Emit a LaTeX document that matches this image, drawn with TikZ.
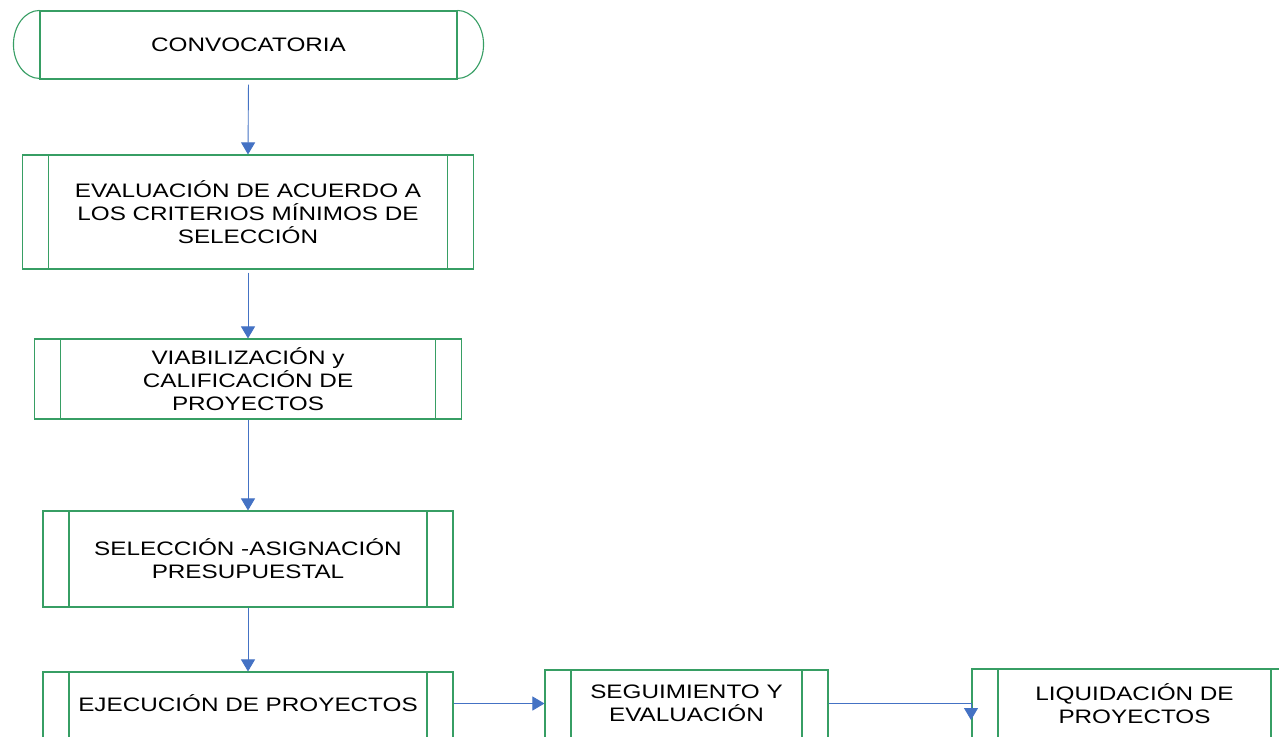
\documentclass[tikz,border=0pt]{standalone}
\usepackage{fontspec}
\setmainfont{Liberation Sans}[FakeStretch=1.245]
\usetikzlibrary{arrows.meta}
\definecolor{boxgreen}{RGB}{55,158,100}
\definecolor{arrblue}{RGB}{68,114,196}
\tikzset{
  lbl/.style={align=center, inner sep=0pt, font=\fontsize{19.5}{23}\selectfont},
  pbox/.style={lbl, draw=boxgreen, line width=1.1pt, rectangle,
    path picture={\draw[boxgreen, line width=1.1pt]
      ([xshift=26pt]path picture bounding box.north west) -- ([xshift=26pt]path picture bounding box.south west)
      ([xshift=-26pt]path picture bounding box.north east) -- ([xshift=-26pt]path picture bounding box.south east);}},
  conn/.style={draw=arrblue, line width=0.9pt, -{Triangle[width=14pt,length=12pt]}},
  termline/.style={draw=boxgreen, line width=1.1pt}
}
\begin{document}
\begin{tikzpicture}[x=1pt,y=-1pt]
\useasboundingbox (0,0) rectangle (1279,736);
\clip (0,0) rectangle (1279,736);
\fill[white] (0,0) rectangle (1279,736);

% terminator
\node[lbl, draw=boxgreen, line width=1.1pt, minimum width=417pt, minimum height=68pt] (conv) at (248.5,45) {CONVOCATORIA};
\draw[termline] (conv.north west) arc[start angle=90, end angle=270, x radius=26pt, y radius=34pt];
\draw[termline] (conv.north east) arc[start angle=90, end angle=-90, x radius=26pt, y radius=34pt];

\node[pbox, minimum width=451pt, minimum height=114pt] (eval) at (248,212)
  {EVALUACIÓN DE ACUERDO A\\LOS CRITERIOS MÍNIMOS DE\\SELECCIÓN};
\node[pbox, minimum width=427pt, minimum height=80pt] (viab) at (248,379)
  {VIABILIZACIÓN y\\CALIFICACIÓN DE\\PROYECTOS};
\node[pbox, minimum width=410pt, minimum height=96pt] (sel) at (248,559)
  {SELECCIÓN -ASIGNACIÓN\\PRESUPUESTAL};

\node[pbox, minimum width=410pt, minimum height=140pt] (ejec) at (248,742) {};
\node[lbl] (eject) at (248,703.5) {EJECUCIÓN DE PROYECTOS};

\node[pbox, minimum width=283pt, minimum height=140pt] (seg) at (686.5,740) {};
\node[lbl] (segt) at (686.5,703.5) {SEGUIMIENTO Y\\EVALUACIÓN};

\node[pbox, minimum width=325pt, minimum height=140pt] (liq) at (1134.5,739) {};
\node[lbl] (liqt) at (1134.5,703.5) {LIQUIDACIÓN DE\\PROYECTOS};

\coordinate (liqin) at (971,720);

\draw[conn, shorten <=5pt] (conv.south) -- (eval.north);
\draw[conn, shorten <=3pt] (eval.south) -- (viab.north);
\draw[conn] (viab.south) -- (sel.north);
\draw[conn] (sel.south) -- (ejec.north);
\draw[conn] (ejec.east |- segt) -- (seg.west |- segt);
\draw[conn] (seg.east |- segt) -| (liqin);
\end{tikzpicture}
\end{document}
